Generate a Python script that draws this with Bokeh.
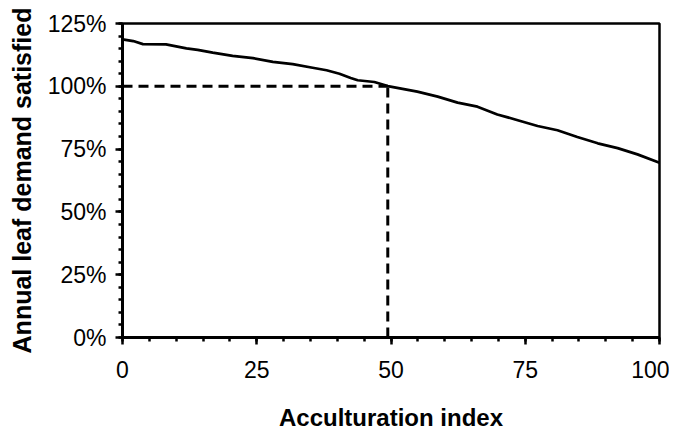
from bokeh.plotting import figure
from bokeh.models import Range1d, SingleIntervalTicker, NumeralTickFormatter
from bokeh.embed import file_html
from bokeh.resources import INLINE

# Data
acculturation = [0, 2, 3.8, 8.1, 11.9, 14, 16.8, 20.5, 24.3, 28, 31.7, 35.4, 38, 40.4,
                 42.5, 43.8, 46.9, 49.4, 54.9, 58.7, 62.4, 66.1, 69.8, 73.6, 77.3, 81,
                 84.7, 88.5, 92.2, 95.9, 100]
demand_pct = [118.7, 118.0, 116.8, 116.7, 115.1, 114.5, 113.4, 112.1, 111.2, 109.7, 108.8,
              107.4, 106.4, 105.0, 103.3, 102.4, 101.7, 100.1, 97.9, 95.9, 93.5, 91.9,
              88.8, 86.5, 84.2, 82.5, 79.8, 77.3, 75.4, 72.9, 69.6]
demand = [v / 100 for v in demand_pct]
threshold_x = 49.4
threshold_y = 1.0

FONT = "Liberation Sans"

p = figure(output_backend="svg", toolbar_location=None,
           frame_width=537, frame_height=314,
           min_border_left=122, min_border_top=23, min_border_right=10, min_border_bottom=88,
           x_range=Range1d(0, 100), y_range=Range1d(0, 1.25),
           background_fill_color="white", border_fill_color="white")

p.xgrid.visible = False
p.ygrid.visible = False
p.outline_line_color = "black"
p.outline_line_width = 2.5
p.outline_line_alpha = 1

# dashed reference lines
p.line([0, threshold_x], [threshold_y, threshold_y], line_color="black", line_width=3,
       line_dash="10 6")
p.line([threshold_x, threshold_x], [0, threshold_y], line_color="black", line_width=3,
       line_dash="10 6")

# main curve
p.line(acculturation, demand, line_color="black", line_width=2.7)

p.xaxis.ticker = SingleIntervalTicker(interval=25, num_minor_ticks=5)
p.yaxis.ticker = SingleIntervalTicker(interval=0.25, num_minor_ticks=5)
p.yaxis.formatter = NumeralTickFormatter(format="0%")

for ax in (p.xaxis[0], p.yaxis[0]):
    ax.axis_line_width = 3
    ax.axis_line_color = "black"
    ax.major_tick_line_width = 2.5
    ax.minor_tick_line_width = 2.5
    ax.major_tick_in = 0
    ax.major_tick_out = 7
    ax.minor_tick_in = 0
    ax.minor_tick_out = 4
    ax.major_label_text_font = FONT
    ax.major_label_text_font_size = "23px"
    ax.major_label_text_color = "black"
    ax.axis_label_text_font = FONT
    ax.axis_label_text_font_style = "bold"
    ax.axis_label_text_color = "black"

p.xaxis.axis_label = "Acculturation index"
p.xaxis.axis_label_text_font_size = "24px"
p.xaxis.major_label_standoff = 16
p.xaxis.axis_label_standoff = 23

p.yaxis.axis_label = "Annual leaf demand satisfied"
p.yaxis.axis_label_text_font_size = "25px"
p.yaxis.major_label_standoff = 9
p.yaxis.axis_label_standoff = 9

open("out.html", "w").write(file_html(p, INLINE))
